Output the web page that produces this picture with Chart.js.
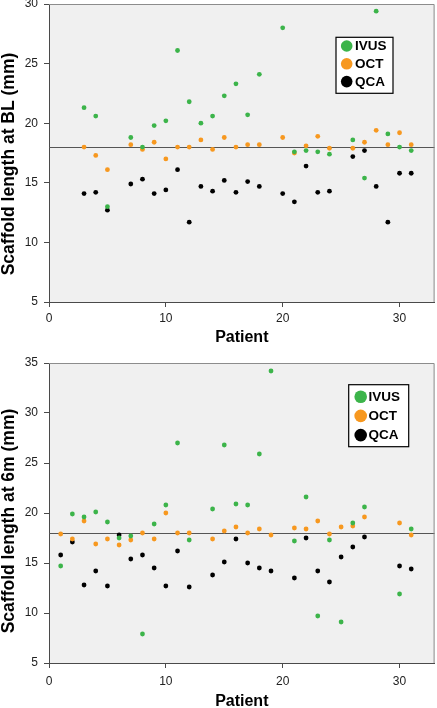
<!DOCTYPE html>
<html>
<head>
<meta charset="utf-8">
<script src="https://cdn.jsdelivr.net/npm/chart.js@4.4.0/dist/chart.umd.min.js"></script>
<style>
  html, body { margin: 0; padding: 0; background: #ffffff; }
  canvas { position: absolute; left: 0; }
  #blChart { top: 0; }
  #m6Chart { top: 350px; }
</style>
</head>
<body>
<canvas id="blChart" width="437" height="350"></canvas>
<canvas id="m6Chart" width="437" height="358"></canvas>
<script>
// ---------------- DATA ----------------
const SERIES_LABELS = ['IVUS', 'OCT', 'QCA'];
const X_TITLE = 'Patient';
const BL_Y_TITLE = 'Scaffold length at BL (mm)';
const M6_Y_TITLE = 'Scaffold length at 6m (mm)';
const X_TICKS = [0, 10, 20, 30];
const BL_Y_TICKS = [5, 10, 15, 20, 25, 30];
const M6_Y_TICKS = [5, 10, 15, 20, 25, 30, 35];
const REFERENCE_LENGTH = 18;

// Baseline (BL)
const BL_PATIENTS = [3, 4, 5, 7, 8, 9, 10, 11, 12, 13, 14, 15, 16, 17, 18, 20, 21, 22, 23, 24, 26, 27, 28, 29, 30, 31];
const BL_IVUS = [21.3, 20.6, 13.0, 18.8, 18.0, 19.8, 20.2, 26.1, 21.8, 20.0, 20.6, 22.3, 23.3, 20.7, 24.1, 28.0, 17.6, 17.7, 17.6, 17.4, 18.6, 15.4, 29.4, 19.1, 18.0, 17.7];
const BL_OCT  = [18.0, 17.3, 16.1, 18.2, 17.8, 18.4, 17.0, 18.0, 18.0, 18.6, 17.8, 18.8, 18.0, 18.2, 18.2, 18.8, 17.5, 18.1, 18.9, 17.9, 17.9, 18.4, 19.4, 18.2, 19.2, 18.2];
const BL_QCA  = [14.1, 14.2, 12.7, 14.9, 15.3, 14.1, 14.4, 16.1, 11.7, 14.7, 14.3, 15.2, 14.2, 15.1, 14.7, 14.1, 13.4, 16.4, 14.2, 14.3, 17.2, 17.7, 14.7, 11.7, 15.8, 15.8];

// 6 months (6m)
const M6_PATIENTS = [1, 2, 3, 4, 5, 6, 7, 8, 9, 10, 11, 12, 14, 15, 16, 17, 18, 19, 21, 22, 23, 24, 25, 26, 27, 30, 31];
const M6_IVUS = [14.7, 19.9, 19.6, 20.1, 19.1, 17.5, 17.7, 7.9, 18.9, 20.8, 27.0, 17.3, 20.4, 26.8, 20.9, 20.8, 25.9, 34.2, 17.2, 21.6, 9.7, 17.3, 9.1, 19.0, 20.6, 11.9, 18.4];
const M6_OCT  = [17.9, 17.4, 19.2, 16.9, 17.4, 16.8, 17.3, 18.0, 17.4, 20.0, 18.0, 18.0, 17.4, 18.2, 18.6, 18.0, 18.4, 17.8, 18.5, 18.4, 19.2, 17.9, 18.6, 18.7, 19.6, 19.0, 17.8];
const M6_QCA  = [15.8, 17.1, 12.8, 14.2, 12.7, 17.8, 15.4, 15.8, 14.5, 12.7, 16.2, 12.6, 13.8, 15.1, 17.4, 15.0, 14.5, 14.2, 13.5, 17.5, 14.2, 13.1, 15.6, 16.6, 17.6, 14.7, 14.4];

// ---------------- STYLE ----------------
const FONT = '"Liberation Sans", Arial, Helvetica, sans-serif';
const COLORS = ['#3cb44a', '#f7981f', '#000000'];
const AXIS_COLOR = '#4a4a4a';
const FRAME_COLOR = '#8c8c8c';
const PLOT_BG = '#f0f0f0';

function toPoints(xs, ys) { return xs.map((x, i) => ({ x: x, y: ys[i] })); }

function makeDatasets(patients, seriesValues) {
  return seriesValues.map((vals, i) => ({
    label: SERIES_LABELS[i],
    data: toPoints(patients, vals),
    backgroundColor: COLORS[i],
    borderColor: COLORS[i],
    borderWidth: 0,
    pointRadius: 2.4,
    pointHoverRadius: 2.4
  }));
}

const framePlugin = {
  id: 'frame',
  beforeDraw(chart) {
    const a = chart.chartArea, ctx = chart.ctx;
    ctx.save();
    ctx.fillStyle = PLOT_BG;
    ctx.fillRect(a.left, a.top, a.right - a.left, a.bottom - a.top);
    ctx.restore();
  },
  beforeDatasetsDraw(chart, args, opts) {
    const a = chart.chartArea, ctx = chart.ctx;
    const y = Math.round(chart.scales.y.getPixelForValue(opts.reference)) + 0.5;
    ctx.save();
    ctx.strokeStyle = '#555555';
    ctx.lineWidth = 1;
    ctx.beginPath();
    ctx.moveTo(a.left, y);
    ctx.lineTo(a.right, y);
    ctx.stroke();
    ctx.restore();
  },
  afterDraw(chart, args, opts) {
    const a = chart.chartArea, ctx = chart.ctx;
    ctx.save();
    // top and right frame
    ctx.strokeStyle = FRAME_COLOR;
    ctx.lineWidth = 1;
    ctx.beginPath();
    ctx.moveTo(a.left, a.top + 0.5);
    ctx.lineTo(a.right - 0.5, a.top + 0.5);
    ctx.lineTo(a.right - 0.5, a.bottom);
    ctx.stroke();

    // rotated y title
    const t = opts.yTitle;
    ctx.translate(t.x, t.y);
    ctx.rotate(-Math.PI / 2);
    ctx.fillStyle = '#000';
    ctx.font = 'bold ' + t.size + 'px ' + FONT;
    ctx.textAlign = 'center';
    ctx.textBaseline = 'middle';
    ctx.fillText(t.text, 0, 0);
    ctx.restore();

    // legend box
    const L = opts.legend;
    ctx.save();
    ctx.fillStyle = '#ffffff';
    ctx.fillRect(L.left, L.top, L.width, L.height);
    ctx.strokeStyle = '#000';
    ctx.lineWidth = 1.2;
    ctx.strokeRect(L.left, L.top, L.width, L.height);
    ctx.font = 'bold ' + L.fontSize + 'px ' + FONT;
    ctx.textBaseline = 'middle';
    ctx.textAlign = 'left';
    chart.data.datasets.forEach((ds, i) => {
      const cy = L.top + L.firstRow + i * L.rowGap;
      ctx.fillStyle = ds.backgroundColor;
      ctx.beginPath();
      ctx.arc(L.left + L.cx, cy, L.r, 0, Math.PI * 2);
      ctx.fill();
      ctx.fillStyle = '#000';
      ctx.fillText(ds.label, L.left + L.textX, cy + 0.5);
    });
    ctx.restore();
  }
};

function makeChart(id, patients, series, yTicks, cfg) {
  const yMin = yTicks[0], yMax = yTicks[yTicks.length - 1];
  return new Chart(document.getElementById(id), {
    type: 'scatter',
    data: { datasets: makeDatasets(patients, series) },
    options: {
      responsive: false,
      animation: false,
      events: [],
      layout: { padding: { top: cfg.padTop, right: 2, left: 0, bottom: 0 } },
      plugins: {
        legend: { display: false },
        tooltip: { enabled: false },
        frame: { reference: REFERENCE_LENGTH, yTitle: cfg.yTitle, legend: cfg.legend }
      },
      scales: {
        x: {
          type: 'linear',
          min: 0,
          max: 33,
          afterBuildTicks(scale) { scale.ticks = X_TICKS.map(v => ({ value: v })); },
          afterFit(scale) { scale.height = cfg.xHeight; scale.paddingLeft = 0; scale.paddingRight = 0; },
          grid: { drawOnChartArea: false, drawTicks: true, tickLength: 5, color: AXIS_COLOR, lineWidth: 1 },
          border: { display: true, color: AXIS_COLOR, width: 1 },
          ticks: { color: '#222', font: { family: FONT, size: 12 }, padding: cfg.xTickPad, maxRotation: 0 },
          title: { display: true, text: X_TITLE, color: '#000',
                   font: { family: FONT, size: 16, weight: 'bold', lineHeight: cfg.xTitleLH },
                   padding: { top: 0, bottom: cfg.xTitlePad } }
        },
        y: {
          type: 'linear',
          min: yMin,
          max: yMax,
          afterBuildTicks(scale) { scale.ticks = yTicks.map(v => ({ value: v })); },
          afterFit(scale) { scale.width = 49; scale.paddingTop = 0; scale.paddingBottom = 0; },
          grid: { drawOnChartArea: false, drawTicks: true, tickLength: 5, color: AXIS_COLOR, lineWidth: 1 },
          border: { display: true, color: AXIS_COLOR, width: 1 },
          ticks: { color: '#222', font: { family: FONT, size: 12 }, padding: 6 },
          title: { display: false }
        }
      }
    },
    plugins: [framePlugin]
  });
}

makeChart('blChart', BL_PATIENTS, [BL_IVUS, BL_OCT, BL_QCA], BL_Y_TICKS, {
  padTop: 4, xHeight: 48, xTickPad: 4, xTitleLH: 1.2, xTitlePad: 2.4,
  yTitle: { text: BL_Y_TITLE, x: 9.5, y: 164, size: 17.5 },
  legend: { left: 336, top: 37.3, width: 57, height: 56, firstRow: 8.7, rowGap: 17.8, r: 5.8, cx: 10.7, textX: 19, fontSize: 13.5 }
});

makeChart('m6Chart', M6_PATIENTS, [M6_IVUS, M6_OCT, M6_QCA], M6_Y_TICKS, {
  padTop: 13, xHeight: 45, xTickPad: 6.5, xTitleLH: 0.8, xTitlePad: 0,
  yTitle: { text: M6_Y_TITLE, x: 9.5, y: 171, size: 17.5 },
  legend: { left: 348.7, top: 34.7, width: 60, height: 62, firstRow: 12, rowGap: 19.2, r: 6.3, cx: 12, textX: 19.7, fontSize: 13.5 }
});
</script>
</body>
</html>
